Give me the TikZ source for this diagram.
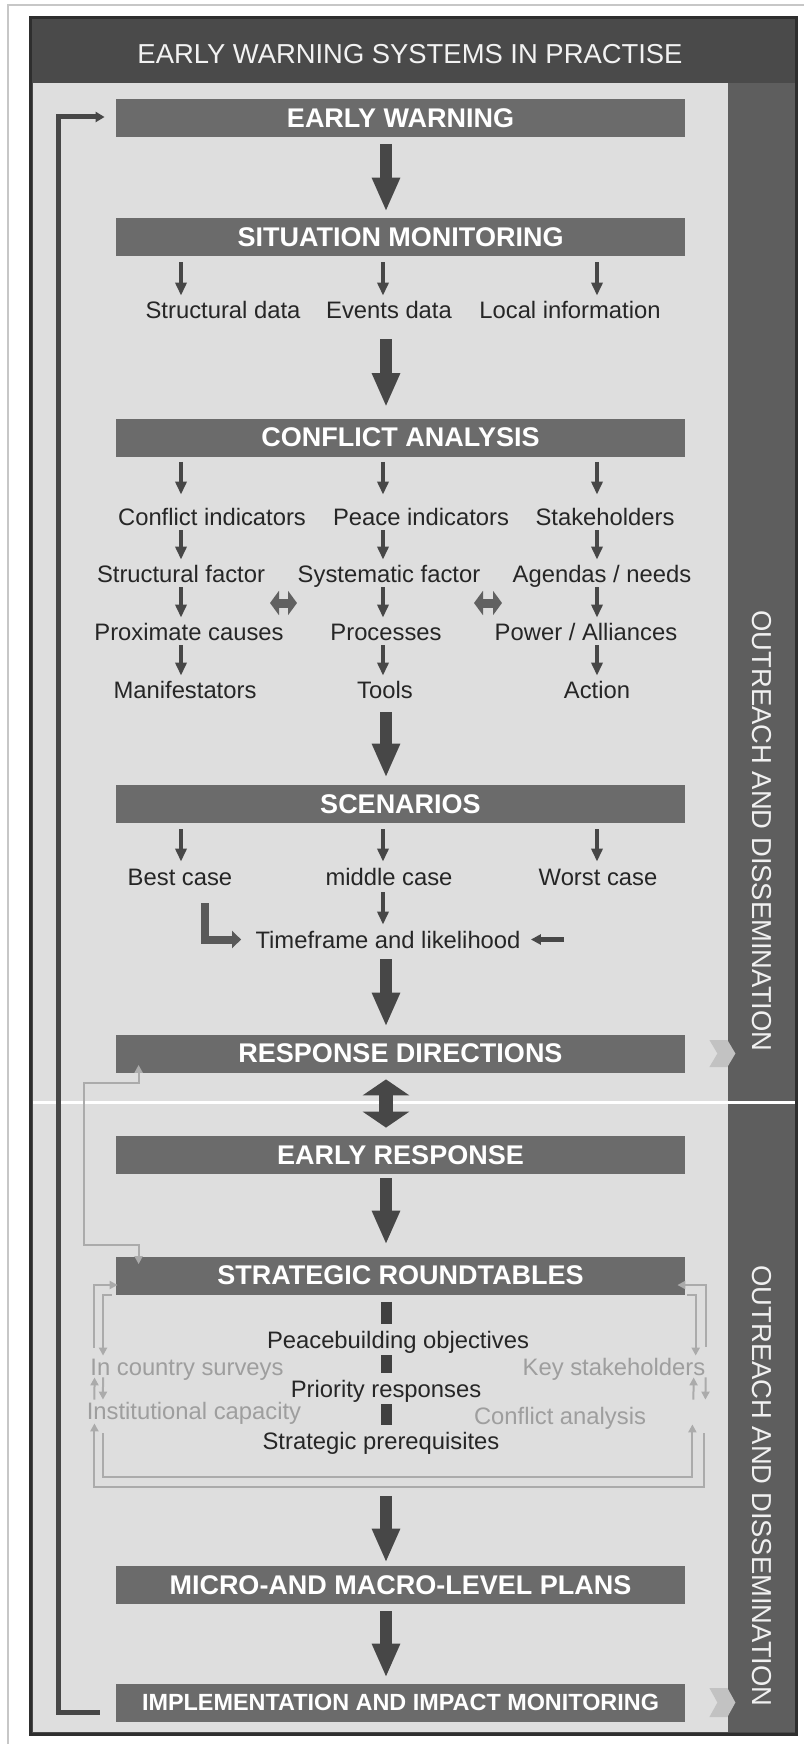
\documentclass[tikz,border=0pt]{standalone}
\usepackage{fontspec}
\setmainfont{Liberation Sans}
\usetikzlibrary{arrows.meta}

\begin{document}
\begin{tikzpicture}[x=0.5pt,y=-0.5pt]
				\tikzset{
					box/.style={fill=black!58,text=white,font=\fontsize{13.5}{16}\selectfont\bfseries,minimum width=284.5pt,minimum height=19pt,inner sep=0pt},
					txt/.style={text=black!85,font=\fontsize{11.9}{14}\selectfont,inner sep=0pt,text height=8.5pt,text depth=0pt,anchor=base},
					gtxt/.style={txt,text=black!38},
					side/.style={text=black!6,font=\fontsize{13.7}{16}\selectfont,rotate=-90,inner sep=0pt},
					bigarr/.style={draw=black!72,line width=6pt,-{Triangle[width=13pt,length=17pt]}},
					dbl/.style={draw=black!72,line width=7pt,{Triangle[width=23pt,length=8pt]}-{Triangle[width=23pt,length=8pt]}},
					sarr/.style={draw=black!72,line width=2pt,-{Triangle[width=5.5pt,length=6.5pt]},shorten <=2.5pt,shorten >=2.5pt},
					fatdbl/.style={draw=black!62,line width=4.5pt,{Triangle[width=12pt,length=4.5pt]}-{Triangle[width=12pt,length=4.5pt]}},
					larr/.style={draw=black!65,line width=4pt,line join=miter,-{Triangle[width=8.5pt,length=4.5pt]}},
					rarr/.style={draw=black!72,line width=2.5pt,-{Triangle[width=5pt,length=5pt]}},
					bar/.style={draw=black!75,line width=5.5pt,shorten <=3.5pt,shorten >=3.5pt},
					glink/.style={draw=black!33,line width=1pt,line join=miter,-{Triangle[width=4pt,length=4pt]}},
					fb/.style={draw=black!72,line width=2.5pt,line join=miter,-{Triangle[width=5pt,length=4.5pt]}},
					chev/.style={fill=black!24}
				}
				\useasboundingbox (0,0) rectangle (804,1744);
				\fill[white] (0,0) rectangle (804,1744);
				\draw[black!22,line width=0.75pt] (8,1744) -- (8,5) -- (804,5);
				\filldraw[fill=black!71,draw=black!82,line width=1.5pt] (30,18) rectangle (796,1734);
				\fill[black!13] (33,83) rectangle (728,1732);
				\fill[black!63] (728,83) rectangle (794.5,1732);
				\draw[white,line width=1.5pt] (33,1102) -- (795,1102);
				\node[text=black!5,font=\fontsize{13.7}{16}\selectfont,inner sep=0pt] (TT) at (410,54) {EARLY WARNING SYSTEMS IN PRACTISE};
				\node[side] (OD1) at (762,831) {OUTREACH AND DISSEMINATION};
				\node[side] (OD2) at (762,1486) {OUTREACH AND DISSEMINATION};
				\node[box] (EW) at (400.5,118.5) {EARLY WARNING};
				\node[box] (SM) at (400.5,237) {SITUATION MONITORING};
				\node[box] (CA) at (400.5,437.5) {CONFLICT ANALYSIS};
				\node[box] (SC) at (400.5,804) {SCENARIOS};
				\node[box] (RD) at (400.5,1053.5) {RESPONSE DIRECTIONS};
				\node[box] (ER) at (400.5,1155) {EARLY RESPONSE};
				\node[box] (SR) at (400.5,1275.5) {STRATEGIC ROUNDTABLES};
				\node[box] (MP) at (400.5,1585) {MICRO-AND MACRO-LEVEL PLANS};
				\node[box,font=\fontsize{11.7}{14}\selectfont\bfseries] (IM) at (400.5,1702.5) {IMPLEMENTATION AND IMPACT MONITORING};
				\coordinate (c0) at (386,0);
				\coordinate (c1) at (181,0);
				\coordinate (c2) at (383,0);
				\coordinate (c3) at (597,0);
				\node[txt] (SD) at (223,318) {Structural data};
				\node[txt] (ED) at (389,318) {Events data};
				\node[txt] (LI) at (570,318) {Local information};
				\node[txt] (CI) at (212,525) {Conflict indicators};
				\node[txt] (PI) at (421,525) {Peace indicators};
				\node[txt] (SH) at (605,525) {Stakeholders};
				\node[txt] (SF) at (181,582) {Structural factor};
				\node[txt] (YF) at (389,582) {Systematic factor};
				\node[txt] (AN) at (602,582) {Agendas / needs};
				\node[txt] (PC) at (189,640) {Proximate causes};
				\node[txt] (PR) at (386,640) {Processes};
				\node[txt] (PA) at (586,640) {Power / Alliances};
				\node[txt] (MF) at (185,698) {Manifestators};
				\node[txt] (TL) at (385,698) {Tools};
				\node[txt] (AC) at (597,698) {Action};
				\node[txt] (BC) at (180,885) {Best case};
				\node[txt] (MC) at (389,885) {middle case};
				\node[txt] (WC) at (598,885) {Worst case};
				\node[txt] (TF) at (388,948) {Timeframe and likelihood};
				\node[txt] (PO) at (398,1348) {Peacebuilding objectives};
				\node[txt] (PS) at (386,1397) {Priority responses};
				\node[txt] (SP) at (381,1449) {Strategic prerequisites};
				\node[gtxt] (ICS) at (187,1375) {In country surveys};
				\node[gtxt] (IC) at (194,1419) {Institutional capacity};
				\node[gtxt] (KS) at (614,1375) {Key stakeholders};
				\node[gtxt] (CN) at (560,1424) {Conflict analysis};
				\coordinate (D1) at (270,603);
				\coordinate (D2) at (297,603);
				\coordinate (D3) at (474,603);
				\coordinate (D4) at (502,603);
				\coordinate (WA) at (564,939.5);
				\draw[bigarr,shorten <=3pt,shorten >=3pt] (EW.south -| c0) -- (SM.north -| c0);
				\draw[bigarr,shorten <=10.5pt,shorten >=5.5pt] (ED.south -| c0) -- (CA.north -| c0);
				\draw[bigarr,shorten <=7pt,shorten >=3.5pt] (TL.south -| c0) -- (SC.north -| c0);
				\draw[bigarr,shorten <=5.5pt,shorten >=3.75pt] (TF.south -| c0) -- (RD.north -| c0);
				\draw[dbl,shorten <=3.25pt,shorten >=4pt] (RD.south -| c0) -- (ER.north -| c0);
				\draw[bigarr,shorten <=2pt,shorten >=5.75pt] (ER.south -| c0) -- (SR.north -| c0);
				\draw[bigarr,shorten <=23.5pt,shorten >=1.5pt] (SP.south -| c0) -- (MP.north -| c0);
				\draw[bigarr,shorten <=3.5pt,shorten >=2.75pt] (MP.south -| c0) -- (IM.north -| c0);
				\draw[sarr,shorten <=3pt] (SM.south -| c1) -- (SD.north -| c1);
				\draw[sarr,shorten <=3pt] (SM.south -| c2) -- (ED.north -| c2);
				\draw[sarr,shorten <=3pt] (SM.south -| c3) -- (LI.north -| c3);
				\draw[sarr,shorten >=6.5pt] (CA.south -| c1) -- (CI.north -| c1);
				\draw[sarr,shorten >=6.5pt] (CA.south -| c2) -- (PI.north -| c2);
				\draw[sarr,shorten >=6.5pt] (CA.south -| c3) -- (SH.north -| c3);
				\draw[sarr] (CI.south -| c1) -- (SF.north -| c1);
				\draw[sarr] (PI.south -| c2) -- (YF.north -| c2);
				\draw[sarr] (SH.south -| c3) -- (AN.north -| c3);
				\draw[sarr] (SF.south -| c1) -- (PC.north -| c1);
				\draw[sarr] (YF.south -| c2) -- (PR.north -| c2);
				\draw[sarr] (AN.south -| c3) -- (PA.north -| c3);
				\draw[sarr] (PC.south -| c1) -- (MF.north -| c1);
				\draw[sarr] (PR.south -| c2) -- (TL.north -| c2);
				\draw[sarr] (PA.south -| c3) -- (AC.north -| c3);
				\draw[fatdbl] (D1) -- (D2);
				\draw[fatdbl] (D3) -- (D4);
				\draw[sarr,shorten <=3pt,shorten >=3pt] (SC.south -| c1) -- (BC.north -| c1);
				\draw[sarr,shorten <=3pt,shorten >=3pt] (SC.south -| c2) -- (MC.north -| c2);
				\draw[sarr,shorten <=3pt,shorten >=3pt] (SC.south -| c3) -- (WC.north -| c3);
				\draw[sarr,shorten <=3.5pt,shorten >=3pt] (MC.south -| c2) -- (TF.north -| c2);
				\draw[larr,shorten <=9pt,shorten >=7pt] ([xshift=-14pt]BC.south east) |- (TF.west);
				\draw[rarr,shorten >=5pt] (WA) -- (TF.east);
				\draw[bar] (SR.south -| c0) -- (PO.north -| c0);
				\draw[bar] (PO.south -| c0) -- (PS.north -| c0);
				\draw[bar] (PS.south -| c0) -- (SP.north -| c0);
				\draw[glink,{Triangle[width=4pt,length=4pt]}-{Triangle[width=4pt,length=4pt]}] ([xshift=11.5pt,yshift=4pt]RD.south west) -- ++(0,18) -- ++(-55,0) -- ++(0,162) -- ++(55,0) -- ([xshift=11.5pt,yshift=-4pt]SR.north west);
				\draw[glink] ([xshift=2pt,yshift=5pt]ICS.north west) |- ([xshift=1pt,yshift=-4.75pt]SR.west);
				\draw[glink] ([xshift=-2pt]SR.south west) -| ([xshift=6.5pt,yshift=1pt]ICS.north west);
				\draw[glink] ([xshift=4pt,yshift=1pt]IC.north west) -- ([xshift=2.25pt,yshift=-1pt]ICS.south west);
				\draw[glink] ([xshift=6.5pt,yshift=-1pt]ICS.south west) -- ([xshift=8.25pt,yshift=1pt]IC.north west);
				\draw[glink] ([xshift=8.5pt,yshift=-7pt]IC.south west) -- ++(0,44) -| ([xshift=23pt]CN.south east);
				\draw[glink] ([xshift=29pt,yshift=-4.5pt]CN.south east) -- ++(0,54) -| ([xshift=4pt,yshift=-2pt]IC.south west);
				\draw[glink] ([yshift=5.5pt]KS.north east) |- ([xshift=-4pt,yshift=-4.75pt]SR.east);
				\draw[glink] ([xshift=1pt]SR.south east) -| ([xshift=-5pt,yshift=1pt]KS.north east);
				\draw[glink] ([xshift=23.5pt,yshift=3.5pt]CN.north east) -- ([xshift=-6pt,yshift=-1pt]KS.south east);
				\draw[glink] ([yshift=-1pt]KS.south east) -- ([xshift=29.5pt,yshift=3.5pt]CN.north east);
				\draw[fb] ([xshift=-8pt,yshift=-4.75pt]IM.west) -- ++(-41,0) |- ([xshift=-5.5pt,yshift=0.75pt]EW.west);
				\fill[chev] ([xshift=12pt,yshift=6.75pt]RD.east) -- ++(18,0) -- ++(8,13.5) -- ++(-8,13.5) -- ++(-18,0) -- ++(8,-13.5) -- cycle;
				\fill[chev] ([xshift=12pt,yshift=7.25pt]IM.east) -- ++(18,0) -- ++(8,14.5) -- ++(-8,14.5) -- ++(-18,0) -- ++(8,-14.5) -- cycle;
			\end{tikzpicture}
\end{document}
